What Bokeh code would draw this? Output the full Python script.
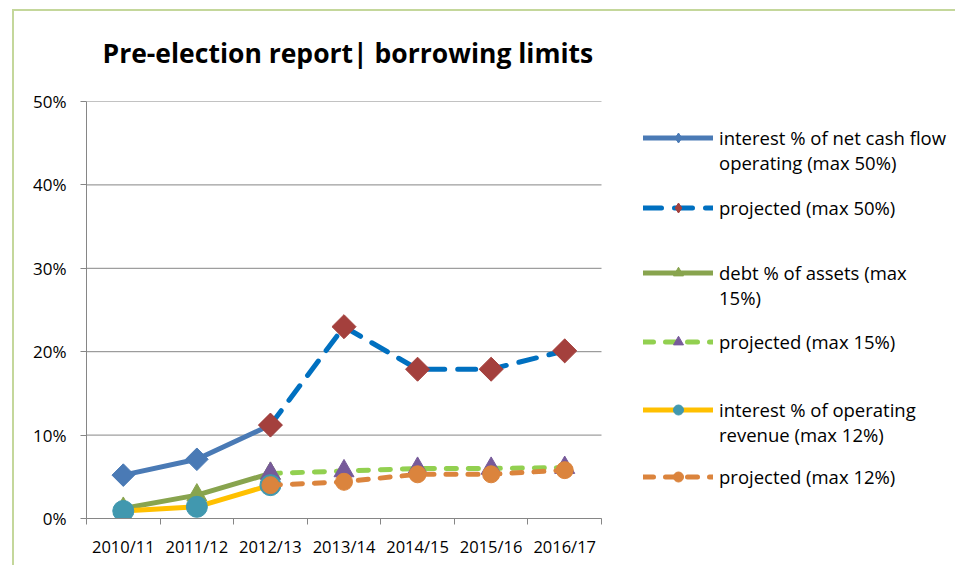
import numpy as np
from bokeh.plotting import figure
from bokeh.models import (Legend, LegendItem, NumeralTickFormatter, FixedTicker, Range1d)
from bokeh.embed import file_html
from bokeh.resources import INLINE

# ---------------- data ----------------
categories = ["2010/11", "2011/12", "2012/13", "2013/14", "2014/15", "2015/16", "2016/17"]
actual_years = ["2010/11", "2011/12", "2012/13"]
projected_years = ["2012/13", "2013/14", "2014/15", "2015/16", "2016/17"]

cash_flow_actual = [0.052, 0.071, 0.112]
cash_flow_projected = [0.112, 0.230, 0.179, 0.179, 0.201]
debt_actual = [0.012, 0.028, 0.054]
debt_projected = [0.054, 0.057, 0.060, 0.060, 0.061]
revenue_actual = [0.009, 0.014, 0.040]
revenue_projected = [0.040, 0.044, 0.053, 0.053, 0.058]

y_ticks = [0.0, 0.1, 0.2, 0.3, 0.4, 0.5]

legend_labels = [
    ["interest % of net cash flow", "operating (max 50%)"],
    ["projected (max 50%)"],
    ["debt % of assets (max", "15%)"],
    ["projected (max 15%)"],
    ["interest % of operating", "revenue (max 12%)"],
    ["projected (max 12%)"],
]
# page y of the first text line of each legend entry
legend_rows = [137, 207, 272, 341, 409, 476]

pos = {c: i + 0.5 for i, c in enumerate(categories)}
xa = [pos[c] for c in actual_years]
xp = [pos[c] for c in projected_years]
n_cat = len(categories)

FONT = "Open Sans"
GRID = "#868686"
FRAME_GREEN = "#C4D79B"
W, H = 955, 565
LEFT, TOP, BOTTOM = 86, 101, 47
PLOT_W = 515                         # width of the category area
FRAME_W = W - LEFT                   # frame spans to the right edge (legend lives there)

p = figure(width=W, height=H,
           x_range=Range1d(0, n_cat * FRAME_W / PLOT_W),
           y_range=Range1d(0, 0.5), output_backend="svg", toolbar_location=None,
           min_border_left=LEFT, min_border_right=0, min_border_top=TOP,
           min_border_bottom=BOTTOM)
p.outline_line_color = None
p.background_fill_color = "white"
p.border_fill_alpha = 0
# light green chart-area border (top and left edges)
p.styles = {
    "background": (f"linear-gradient({FRAME_GREEN},{FRAME_GREEN}) 12px 9px / 2px 556px no-repeat, "
                   f"linear-gradient({FRAME_GREEN},{FRAME_GREEN}) 12px 9px / 943px 2px no-repeat, "
                   "#ffffff"),
}

p.title.text = "Pre-election report| borrowing limits"
p.title.align = "left"
p.title.offset = 16
p.title.text_font = FONT
p.title.text_font_size = "26.5px"
p.title.text_font_style = "bold"
p.title.text_color = "black"
p.title.standoff = 62

# grid lines only across the category area
p.xgrid.visible = False
p.ygrid.visible = False
p.segment(x0=0, x1=n_cat, y0=y_ticks, y1=y_ticks, line_color=GRID, line_width=1)

p.yaxis.ticker = FixedTicker(ticks=y_ticks)
p.yaxis.formatter = NumeralTickFormatter(format="0%")
p.yaxis.axis_line_color = GRID
p.yaxis.major_tick_line_color = GRID
p.yaxis.major_tick_in = 0
p.yaxis.major_tick_out = 6
p.yaxis.minor_tick_line_color = None
p.yaxis.major_label_text_font = FONT
p.yaxis.major_label_text_font_size = "17px"
p.yaxis.major_label_text_color = "black"
p.yaxis.major_label_standoff = 14

p.xaxis.bounds = (0, n_cat)
p.xaxis.ticker = FixedTicker(ticks=[pos[c] for c in categories],
                             minor_ticks=list(range(n_cat + 1)))
p.xaxis.major_label_overrides = {pos[c]: c for c in categories}
p.xaxis.axis_line_color = GRID
p.xaxis.major_tick_line_color = None
p.xaxis.major_tick_in = 0
p.xaxis.major_tick_out = 0
p.xaxis.minor_tick_line_color = GRID
p.xaxis.minor_tick_in = 0
p.xaxis.minor_tick_out = 6
p.xaxis.major_label_text_font = FONT
p.xaxis.major_label_text_font_size = "16.5px"
p.xaxis.major_label_text_color = "black"
p.xaxis.major_label_standoff = 10

DIA = np.pi / 4
LW = 5
LONG_DASH = "18 13"
DASH = "10 12"
CAP = dict(line_cap="round", line_join="round")

# legend swatch diamonds (drawn first, hidden under the rotated squares)
k1 = p.scatter(xa, cash_flow_actual, marker="diamond", size=14,
               fill_color="#4A7AB5", line_color="#4A7AB5")
l1 = p.line(xa, cash_flow_actual, line_color="#4A7AB5", line_width=LW, **CAP)
m1 = p.scatter(xa, cash_flow_actual, marker="square", angle=DIA, size=16,
               fill_color="#4A7AB5", line_color="#4A7AB5")
k2 = p.scatter(xp, cash_flow_projected, marker="diamond", size=14,
               fill_color="#A4403D", line_color="#A4403D")
l2 = p.line(xp, cash_flow_projected, line_color="#0070C0", line_width=LW,
            line_dash=LONG_DASH, **CAP)
m2 = p.scatter(xp, cash_flow_projected, marker="square", angle=DIA, size=17,
               fill_color="#A4403D", line_color="#A4403D")
l3 = p.line(xa, debt_actual, line_color="#88A44E", line_width=LW, **CAP)
m3 = p.scatter(xa, debt_actual, marker="triangle", size=20,
               fill_color="#88A44E", line_color="#88A44E")
l4 = p.line(xp, debt_projected, line_color="#92D050", line_width=LW,
            line_dash=DASH, **CAP)
m4 = p.scatter(xp, debt_projected, marker="triangle", size=20,
               fill_color="#775A9A", line_color="#775A9A")
l5 = p.line(xa, revenue_actual, line_color="#FFC000", line_width=LW, **CAP)
m5 = p.scatter(xa, revenue_actual, marker="circle", size=21,
               fill_color="#4198AF", line_color="#4198AF")
l6 = p.line(xp, revenue_projected, line_color="#DB843D", line_width=LW,
            line_dash=DASH, **CAP)
m6 = p.scatter(xp, revenue_projected, marker="circle", size=17,
               fill_color="#DB843D", line_color="#DB843D")

blank = p.line([], [], line_alpha=0)

swatches = [[l1, k1], [l2, k2], [l3, m3], [l4, m4], [l5, m5], [l6, m6]]
ROW = 25
for lines, rs, row in zip(legend_labels, swatches, legend_rows):
    items = [LegendItem(label=lines[0], renderers=rs)]
    for extra in lines[1:]:
        items.append(LegendItem(label=extra, renderers=[blank]))
    height = ROW * len(lines)
    top = row - ROW / 2
    vy = (H - BOTTOM) - (top + height)
    lg = Legend(items=items, location=(643 - LEFT, vy))
    lg.border_line_color = None
    lg.background_fill_alpha = 0
    lg.glyph_width = 70
    lg.glyph_height = ROW
    lg.label_height = ROW
    lg.label_text_font = FONT
    lg.label_text_font_size = "18.5px"
    lg.label_text_color = "black"
    lg.label_standoff = 6
    lg.spacing = 0
    lg.padding = 0
    lg.margin = 0
    p.add_layout(lg)

open("out.html", "w").write(file_html(p, INLINE))
